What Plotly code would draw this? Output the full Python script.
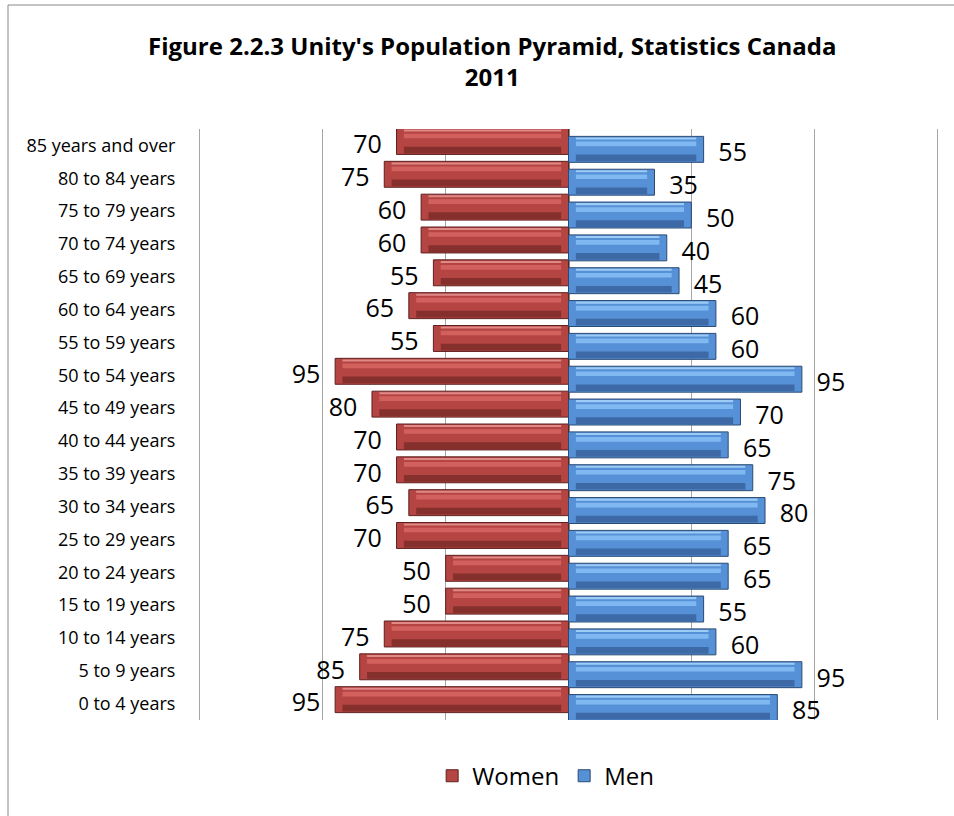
import plotly.graph_objects as go

# age groups, bottom to top
age_groups = ["0 to 4 years", "5 to 9 years", "10 to 14 years", "15 to 19 years",
              "20 to 24 years", "25 to 29 years", "30 to 34 years", "35 to 39 years",
              "40 to 44 years", "45 to 49 years", "50 to 54 years", "55 to 59 years",
              "60 to 64 years", "65 to 69 years", "70 to 74 years", "75 to 79 years",
              "80 to 84 years", "85 years and over"]
women = [95, 85, 75, 50, 50, 70, 65, 70, 70, 80, 95, 55, 65, 55, 60, 60, 75, 70]
men = [85, 95, 60, 55, 65, 65, 80, 75, 65, 70, 95, 60, 60, 45, 40, 50, 35, 55]

pos = list(range(len(age_groups)))
W, SHIFT = 0.79, 0.12   # bar thickness / vertical shift of each series
BEV = 3                 # bevel inset in data units
PAD = 6                 # label gap in data units

fig = go.Figure()


def band(vals, sign, shift, lo, hi, color, inset, name, legend=False, edge=None):
    # a horizontal strip of the bar between fractions lo..hi of its thickness
    xs = [sign * (v - 2 * inset) for v in vals]
    fig.add_trace(go.Bar(y=pos, x=xs, base=sign * inset, orientation="h",
                         width=W * (hi - lo), offset=shift - W / 2 + W * lo,
                         marker=dict(color=color,
                                     line=dict(color=edge or color, width=1 if edge else 0)),
                         name=name, showlegend=legend, hoverinfo="skip"))


def bevel_bars(vals, sign, shift, cols, name):
    dark, mid, light, top, edge = cols
    band(vals, sign, shift, 0.0, 1.0, mid, 0, name, legend=True, edge=edge)
    band(vals, sign, shift, 0.04, 0.30, dark, BEV, name)
    band(vals, sign, shift, 0.62, 0.80, light, BEV, name)
    band(vals, sign, shift, 0.88, 0.96, top, BEV, name)
    fig.add_trace(go.Scatter(y=[p + shift - 0.17 for p in pos],
                             x=[sign * (v + PAD) for v in vals], mode="text",
                             text=[str(v) for v in vals],
                             textposition="middle left" if sign < 0 else "middle right",
                             textfont=dict(size=25, color="#000000", family="Open Sans"),
                             showlegend=False, hoverinfo="skip", cliponaxis=False))


bevel_bars(women, -1, SHIFT, ["#86302e", "#b44543", "#d2615e", "#e08a88", "#5e2120"], "Women")
bevel_bars(men, 1, -SHIFT, ["#3d6aa6", "#5690d6", "#80b9f2", "#9ccbf6", "#2a4a74"], "Men")

fig.update_layout(
    width=954, height=816,
    margin=dict(l=200, r=17, t=129, b=96),
    paper_bgcolor="white", plot_bgcolor="white",
    barmode="overlay",
    font=dict(family="Open Sans", color="#000000"),
    title=dict(text="<b>Figure 2.2.3 Unity's Population Pyramid, Statistics Canada<br>2011</b>",
               x=0.516, xanchor="center", y=0.933, yanchor="top",
               font=dict(size=24, family="Open Sans", color="#000000")),
    xaxis=dict(range=[-150, 150], dtick=50, showgrid=True, gridcolor="#a6a6a6",
               gridwidth=1, zeroline=True, zerolinecolor="#868686", showticklabels=False,
               fixedrange=True),
    yaxis=dict(range=[-0.5, 17.5], tickvals=pos, ticktext=age_groups, showgrid=False,
               zeroline=False, showline=True, mirror=True, linecolor="#a6a6a6",
               ticklabelstandoff=20, tickfont=dict(size=18, family="Open Sans")),
    legend=dict(orientation="h", x=0.469, xanchor="center", y=-0.095, yanchor="middle",
                font=dict(size=24, family="Open Sans"), traceorder="normal"),
    shapes=[dict(type="rect", xref="paper", yref="paper",
                 x0=(8 - 200) / 737, x1=(970 - 200) / 737,
                 y0=(720 - 830) / 591, y1=(720 - 5) / 591,
                 line=dict(color="#888888", width=1), fillcolor="rgba(0,0,0,0)", layer="below")],
)

fig.write_html("out.html", config={"displayModeBar": False},
               post_script="document.body.style.margin='0';")
